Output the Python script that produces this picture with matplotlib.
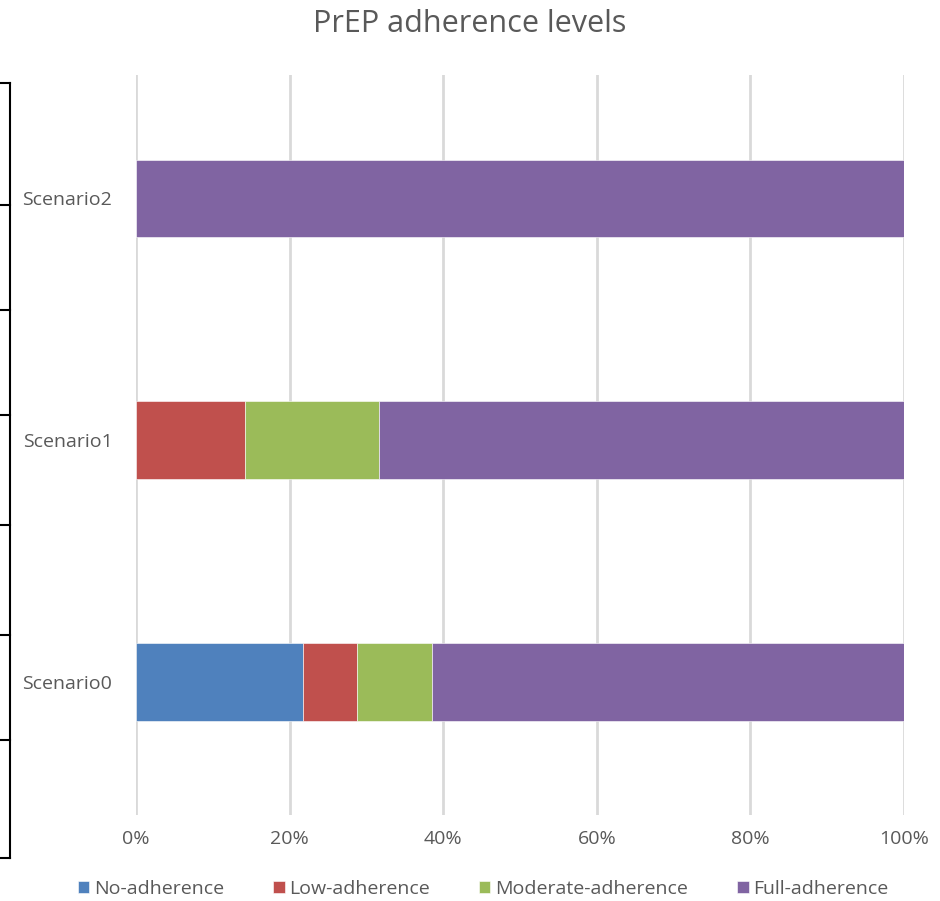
import matplotlib.pyplot as plt
from matplotlib.lines import Line2D
import numpy as np

plt.rcParams['font.family'] = ['Open Sans', 'DejaVu Sans']

scenarios = ['Scenario0', 'Scenario1', 'Scenario2']
series_names = ['No-adherence', 'Low-adherence', 'Moderate-adherence', 'Full-adherence']
no_adh = [0.218, 0.0, 0.0]
low_adh = [0.070, 0.142, 0.0]
mod_adh = [0.097, 0.174, 0.0]
full_adh = [0.615, 0.684, 1.0]
colors = ['#4F81BD', '#C0504D', '#9BBB59', '#8064A2']
xticks = [0, 0.2, 0.4, 0.6, 0.8, 1.0]
xtick_labels = ['0%', '20%', '40%', '60%', '80%', '100%']

fig = plt.figure(figsize=(9.4, 9.01), dpi=100)
ax = fig.add_axes([0.1447, 0.0955, 0.8170, 0.8213])

y = np.arange(len(scenarios))
left = np.zeros(len(scenarios))
for name, vals, c in zip(series_names, [no_adh, low_adh, mod_adh, full_adh], colors):
    ax.barh(y, vals, left=left, height=0.32, color=c, label=name,
            edgecolor='white', linewidth=0.4, zorder=3)
    left += np.array(vals)

ax.set_xlim(0, 1.0)
ax.set_ylim(-0.55, 2.51)
ax.set_xticks(xticks)
ax.set_xticklabels(xtick_labels)
ax.set_yticks(y)
ax.set_yticklabels(scenarios)
ax.grid(axis='x', color='#D9D9D9', linewidth=2, zorder=0)
ax.set_axisbelow(True)
for s in ax.spines.values():
    s.set_visible(False)
ax.tick_params(axis='both', length=0, labelsize=14, colors='#595959')
ax.tick_params(axis='x', pad=11)
ax.tick_params(axis='y', pad=17)

fig.suptitle('PrEP adherence levels', y=0.99, fontsize=22, color='#595959')

ax.legend(loc='upper center', bbox_to_anchor=(0.452, -0.064), ncol=4, frameon=False,
          fontsize=14, handlelength=0.6, handleheight=0.6, handletextpad=0.25,
          columnspacing=2.5, labelcolor='#595959')

# bracket on the far left
H = 901.0
fig.add_artist(Line2D([10 / 940, 10 / 940], [1 - 83 / H, 1 - 858 / H], color='black', lw=1.5))
for py in [83, 205, 310, 415, 525, 635, 740, 858]:
    fig.add_artist(Line2D([0, 10 / 940], [1 - py / H, 1 - py / H], color='black', lw=1.5))

fig.savefig('out.png', dpi=100)
